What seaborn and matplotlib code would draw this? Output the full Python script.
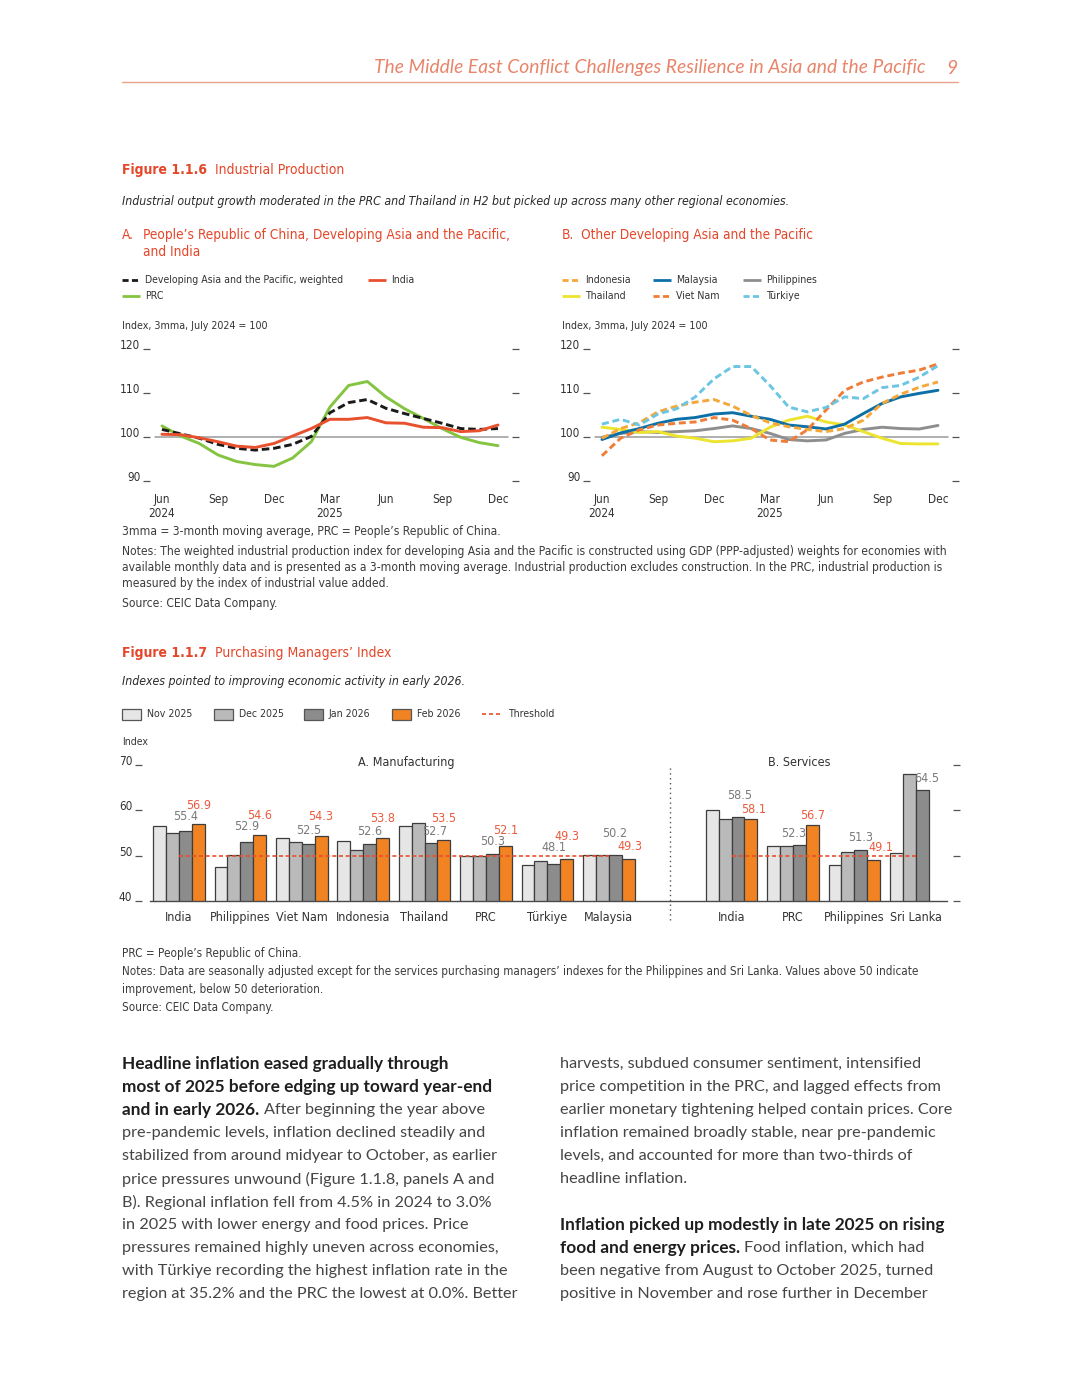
import numpy as np
import pandas as pd
import seaborn as sns
import matplotlib
matplotlib.use("Agg")
import matplotlib.pyplot as plt
from matplotlib.patches import Rectangle

# ----------------------------- data -----------------------------
# Figure 1.1.6: index, 3mma, July 2024 = 100; months Jun 2024 .. Dec 2025
month_index = list(range(19))
month_tick_pos = [0, 3, 6, 9, 12, 15, 18]
month_tick_labels = ["Jun\n2024", "Sep", "Dec", "Mar\n2025", "Jun", "Sep", "Dec"]
ip_yticks = [90, 100, 110, 120]

ip_dev_asia = [101.8, 100.8, 99.8, 98.4, 97.5, 97.1, 97.5, 98.4, 100.2, 105.6,
               107.9, 108.6, 106.6, 105.4, 104.3, 103.2, 102.0, 101.8, 102.0]
ip_india = [100.7, 100.6, 99.9, 99.0, 98.0, 97.7, 98.6, 100.3, 102.0, 104.1,
            104.1, 104.5, 103.3, 103.2, 102.3, 102.2, 101.3, 101.5, 102.8]
ip_prc = [102.6, 100.3, 98.6, 96.0, 94.5, 93.8, 93.4, 95.3, 99.0, 106.9,
          111.8, 112.7, 109.2, 106.5, 104.3, 102.0, 100.0, 98.8, 98.1]

ip_indonesia = [99.8, 102.0, 103.3, 105.8, 107.1, 108.0, 108.6, 107.1, 105.0, 103.3,
                102.4, 101.8, 101.3, 102.0, 103.9, 107.7, 109.8, 111.4, 112.6]
ip_malaysia = [99.5, 101.0, 102.0, 103.2, 104.1, 104.5, 105.3, 105.6, 104.8, 104.1,
               102.8, 102.4, 101.9, 103.0, 105.4, 107.7, 109.2, 110.0, 110.7]
ip_philippines = [100.0, 100.9, 101.3, 101.1, 101.3, 101.5, 102.0, 102.6, 102.0, 100.9,
                  99.5, 99.2, 99.4, 100.9, 101.8, 102.3, 102.0, 101.9, 102.7]
ip_thailand = [102.3, 101.8, 101.1, 101.3, 100.3, 99.8, 99.0, 99.2, 99.8, 102.3,
               103.9, 104.8, 103.5, 102.8, 101.3, 99.8, 98.6, 98.5, 98.5]
ip_vietnam = [95.8, 99.8, 101.7, 102.8, 103.2, 103.5, 104.5, 103.9, 102.0, 99.4,
              99.0, 101.7, 106.2, 110.7, 112.6, 113.7, 114.6, 115.3, 116.7]
ip_turkiye = [103.0, 104.1, 102.8, 105.3, 106.5, 109.2, 113.3, 116.1, 116.1, 111.8,
              106.9, 105.8, 106.8, 109.2, 108.8, 111.3, 111.8, 113.7, 116.3]

# Figure 1.1.7: PMI
pmi_months = ["Nov 2025", "Dec 2025", "Jan 2026", "Feb 2026"]
manuf_countries = ["India", "Philippines", "Viet Nam", "Indonesia", "Thailand", "PRC", "Türkiye", "Malaysia"]
manuf_nov = [56.5, 47.5, 53.8, 53.3, 56.5, 49.9, 48.0, 50.1]
manuf_dec = [55.0, 50.2, 52.9, 51.2, 57.1, 50.0, 48.9, 50.1]
manuf_jan = [55.4, 52.9, 52.5, 52.6, 52.7, 50.3, 48.1, 50.2]
manuf_feb = [56.9, 54.6, 54.3, 53.8, 53.5, 52.1, 49.3, 49.3]
serv_countries = ["India", "PRC", "Philippines", "Sri Lanka"]
serv_nov = [59.9, 52.2, 48.0, 50.5]
serv_dec = [58.0, 52.0, 50.8, 68.0]
serv_jan = [58.5, 52.3, 51.3, 64.5]
serv_feb = [58.1, 56.7, 49.1, np.nan]
pmi_threshold = 50
pmi_yticks = [40, 50, 60, 70]

# label placement in pixels (layout only): rise above bar top, horizontal nudge
jan_gap_m = [11, 12, 10, 9, 8, 9, 13, 17.5]
feb_gap_m = [15, 15.5, 16, 16, 17.5, 12, 18.5, 8.5]
jan_gap_s = [18, 8, 8.5, 7.5]
feb_gap_s = [5.5, 6, 8.5, 0]
jan_dx_m = [0, 0, 0, 0, 3.5, 0, 0, 0]
feb_dx_m = [0, 0, 0, 0, 0, 0, 0, 2]
jan_dx_s = [1.5, -6, 0, 5]
feb_dx_s = [2.5, 0, 7, 0]

# ----------------------------- setup -----------------------------
sns.set_theme(style="white")
BODY = ["Lato", "Open Sans", "DejaVu Sans"]
plt.rcParams["font.family"] = ["Liberation Sans", "DejaVu Sans"]

W, H = 1080, 1398
fig = plt.figure(figsize=(W / 100, H / 100), dpi=100)
fig.patch.set_facecolor("white")
page = fig.add_axes([0, 0, 1, 1], zorder=0)
page.set_xlim(0, W)
page.set_ylim(H, 0)
page.axis("off")
R = fig.canvas.get_renderer()

RED = "#e4472a"
TXT = "#333333"


def raw_width(s, size, family, stretch="normal", **kw):
    t = page.text(0, 0, s, fontsize=size, family=family, fontstretch=stretch, **kw)
    w = t.get_window_extent(R).width
    t.remove()
    return w


# pick a condensed face for chart text if one is installed
CH, CH_STRETCH = ["Liberation Sans", "DejaVu Sans"], "normal"
for fam in ["Noto Sans", "DejaVu Sans", "Open Sans", "Roboto"]:
    wn = raw_width("Industrial output growth moderated", 10, [fam], "normal")
    wc = raw_width("Industrial output growth moderated", 10, [fam], "condensed")
    if wc < 0.92 * wn:
        CH, CH_STRETCH = [fam, "DejaVu Sans"], "condensed"
        break
plt.rcParams["font.family"] = CH
plt.rcParams["font.stretch"] = CH_STRETCH
TICK = 8.5 if CH_STRETCH == "condensed" else 8


def add_ax(l, t, r, b):
    ax = fig.add_axes([l / W, 1 - b / H, (r - l) / W, (b - t) / H], zorder=2)
    ax.patch.set_alpha(0)
    return ax


def T(x, y, s, size, family=None, color=TXT, weight="normal", style="normal", ha="left", va="center"):
    fam = CH if family is None else family
    st = CH_STRETCH if family is None else "normal"
    return page.text(x, y, s, fontsize=size, family=fam, fontstretch=st, color=color,
                     fontweight=weight, fontstyle=style, ha=ha, va=va)


def width_of(s, size, **kw):
    t = T(0, 0, s, size, **kw)
    w = t.get_window_extent(R).width
    t.remove()
    return w


def fit(s, target, **kw):
    return 10 * target / width_of(s, 10, **kw)


def runs(x, y, parts, size_b, size_r, family, colors=("#454545", "#1e1e1e")):
    for s, bold in parts:
        sz = size_b if bold else size_r
        t = T(x, y, s, sz, family=family, color=colors[1] if bold else colors[0],
              weight="bold" if bold else "normal")
        sp = width_of("a a", sz, family=family) - width_of("aa", sz, family=family)
        x += t.get_window_extent(R).width + sp


# ----------------------------- header -----------------------------
hdr = "The Middle East Conflict Challenges Resilience in Asia and the Pacific"
hs = fit(hdr, 551, family=BODY, style="italic")
T(926, 68, hdr, hs, family=BODY, color="#e8856a", style="italic", ha="right")
T(952, 68, "9", hs, family=BODY, color="#e8856a", style="italic", ha="center")
page.plot([122, 958], [82, 82], color="#e9a48f", lw=1)

# ----------------------------- Figure 1.1.6 -----------------------------
fs = fit("Figure 1.1.6", 85, weight="bold")
T(122, 170, "Figure 1.1.6", fs, color=RED, weight="bold")
T(215, 170, "Industrial Production", fs, color=RED)
sub1 = "Industrial output growth moderated in the PRC and Thailand in H2 but picked up across many other regional economies."
ss = fit(sub1, 668, style="italic")
T(122, 201, sub1, ss, color="#2a2a2a", style="italic")

pt = "People’s Republic of China, Developing Asia and the Pacific,"
ps = fit(pt, 367)
T(122, 235, "A.", ps, color=RED)
T(143, 235, pt, ps, color=RED)
T(143, 252, "and India", ps, color=RED)
T(562, 235, "B.", ps, color=RED)
T(581, 235, "Other Developing Asia and the Pacific", ps, color=RED)

ls = fit("Developing Asia and the Pacific, weighted", 199)
legA = [(122, 280, "Developing Asia and the Pacific, weighted", "#1a1a1a", (0, (2.2, 1.2))),
        (368, 280, "India", "#e8502e", "-"),
        (122, 296, "PRC", "#84c441", "-")]
legB = [(562, 280, "Indonesia", "#f5a83a", (0, (2.2, 1.2))),
        (653, 280, "Malaysia", "#0c70a6", "-"),
        (743, 280, "Philippines", "#8e8e8e", "-"),
        (562, 296, "Thailand", "#ece42f", "-"),
        (653, 296, "Viet Nam", "#ef7d37", (0, (2.2, 1.2))),
        (743, 296, "Türkiye", "#6cc5e3", (0, (2.2, 1.2)))]
for x, y, lab, c, st in legA + legB:
    page.plot([x, x + 18], [y, y], color=c, lw=2, ls=st, solid_capstyle="butt", dash_capstyle="butt")
    T(x + 23, y, lab, ls)

isz = fit("Index, 3mma, July 2024 = 100", 146)
T(122, 326, "Index, 3mma, July 2024 = 100", isz)
T(562, 326, "Index, 3mma, July 2024 = 100", isz)

dfA = pd.DataFrame({
    "month": month_index * 3,
    "value": ip_prc + ip_dev_asia + ip_india,
    "series": ["PRC"] * 19 + ["Developing Asia and the Pacific, weighted"] * 19 + ["India"] * 19,
})
palA = {"PRC": "#84c441", "Developing Asia and the Pacific, weighted": "#1a1a1a", "India": "#e8502e"}
dashA = {"PRC": "", "Developing Asia and the Pacific, weighted": (2.6, 1.3), "India": ""}

seriesB = {"Philippines": ip_philippines, "Thailand": ip_thailand, "Malaysia": ip_malaysia,
           "Indonesia": ip_indonesia, "Viet Nam": ip_vietnam, "Türkiye": ip_turkiye}
dfB = pd.DataFrame({
    "month": month_index * len(seriesB),
    "value": sum(seriesB.values(), []),
    "series": sum([[k] * 19 for k in seriesB], []),
})
palB = {"Indonesia": "#f5a83a", "Malaysia": "#0c70a6", "Philippines": "#8e8e8e",
        "Thailand": "#ece42f", "Viet Nam": "#ef7d37", "Türkiye": "#6cc5e3"}
dashB = {"Indonesia": (2.4, 1.3), "Malaysia": "", "Philippines": "", "Thailand": "",
         "Viet Nam": (2.4, 1.3), "Türkiye": (2.4, 1.3)}


def style_line_axes(ax):
    ax.set_xlim(-0.64, 18.75)
    ax.set_ylim(88, 121)
    for s in ax.spines.values():
        s.set_visible(False)
    ax.tick_params(axis="y", left=True, right=True, direction="out", length=5, width=0.9,
                   color="#555555", labelsize=TICK, labelcolor=TXT, pad=2)
    ax.set_yticks(ip_yticks)
    ax.set_yticklabels([str(v) for v in ip_yticks], va="baseline")
    ax.tick_params(axis="x", length=0, pad=2, labelsize=TICK, labelcolor=TXT)
    ax.set_xticks(month_tick_pos)
    ax.set_xticklabels(month_tick_labels, linespacing=1.15)
    ax.axhline(100, xmin=0.014, xmax=0.989, color="#9a9a9a", lw=1.1, zorder=1)
    ax.set_xlabel("")
    ax.set_ylabel("")
    ax.grid(False)


axA = add_ax(150, 345, 512, 490.1)
sns.lineplot(data=dfA, x="month", y="value", hue="series", style="series", palette=palA,
             dashes=dashA, linewidth=2.1, legend=False, errorbar=None, ax=axA)
style_line_axes(axA)

axB = add_ax(590, 345, 952, 490.1)
sns.lineplot(data=dfB, x="month", y="value", hue="series", style="series", palette=palB,
             dashes=dashB, linewidth=2.1, legend=False, errorbar=None, ax=axB)
style_line_axes(axB)

notes1 = [
    (531, "3mma = 3-month moving average, PRC = People’s Republic of China."),
    (551, "Notes: The weighted industrial production index for developing Asia and the Pacific is constructed using GDP (PPP-adjusted) weights for economies with"),
    (567, "available monthly data and is presented as a 3-month moving average. Industrial production excludes construction. In the PRC, industrial production is"),
    (584, "measured by the index of industrial value added."),
    (604, "Source: CEIC Data Company."),
]
ns = fit(notes1[1][1], 822)
for y, s in notes1:
    T(122, y, s, ns, color="#3c3c3c")

# ----------------------------- Figure 1.1.7 -----------------------------
T(122, 653, "Figure 1.1.7", fs, color=RED, weight="bold")
T(215, 653, "Purchasing Managers’ Index", fs, color=RED)
T(122, 681, "Indexes pointed to improving economic activity in early 2026.", ss, color="#2a2a2a", style="italic")

pmi_colors = {"Nov 2025": "#e6e6e6", "Dec 2025": "#bababa", "Jan 2026": "#8c8c8c", "Feb 2026": "#f28322"}
leg_x = [122, 214, 304, 392]
for x, m in zip(leg_x, pmi_months):
    page.add_patch(Rectangle((x, 709), 19, 10.5, facecolor=pmi_colors[m], edgecolor="#555555", lw=0.9))
    T(x + 25, 714, m, ls)
page.plot([482, 501], [714, 714], color="#e8502a", lw=1.2, ls=(0, (2.4, 1.8)))
T(508, 714, "Threshold", ls)
T(122, 742, "Index", ls)

gap_key = " "
order = [f"M:{c}" for c in manuf_countries] + [gap_key] + [f"S:{c}" for c in serv_countries]
rows = []
for m, mv, sv in zip(pmi_months, [manuf_nov, manuf_dec, manuf_jan, manuf_feb],
                     [serv_nov, serv_dec, serv_jan, serv_feb]):
    for c, v in zip(manuf_countries, mv):
        rows.append((f"M:{c}", m, v))
    for c, v in zip(serv_countries, sv):
        rows.append((f"S:{c}", m, v))
dfP = pd.DataFrame(rows, columns=["key", "month", "value"]).dropna()

axP = add_ax(150, 760, 947, 901)
sns.barplot(data=dfP, x="key", y="value", hue="month", order=order, hue_order=pmi_months,
            palette=pmi_colors, width=0.84, edgecolor="#3d3d3d", linewidth=0.9, saturation=1,
            errorbar=None, legend=False, ax=axP)
axP.set_xlim(-0.472, 12.51)
axP.set_ylim(40, 71)
for k, s in axP.spines.items():
    s.set_visible(k == "bottom")
axP.spines["bottom"].set_color("#4a4a4a")
axP.spines["bottom"].set_linewidth(1)
axP.spines["left"].set_position(("outward", 5.8))
axP.spines["right"].set_position(("outward", 4.3))
axP.tick_params(axis="y", left=True, right=True, direction="out", length=5, width=0.9,
                color="#555555", labelsize=TICK, labelcolor=TXT, pad=2)
axP.set_yticks(pmi_yticks)
axP.set_yticklabels([str(v) for v in pmi_yticks], va="baseline")
axP.set_xticks(range(len(order)))
axP.set_xticklabels(manuf_countries + [""] + serv_countries)
axP.tick_params(axis="x", length=0, pad=7, labelsize=TICK + 0.5, labelcolor=TXT)
axP.set_xlabel("")
axP.set_ylabel("")
axP.grid(False)

thr_kw = dict(color="#e8502a", lw=1.2, ls=(0, (2.4, 1.6)), zorder=5)
axP.plot([0, len(manuf_countries) - 1], [pmi_threshold] * 2, **thr_kw)
s0 = len(manuf_countries) + 1
axP.plot([s0, s0 + len(serv_countries) - 1], [pmi_threshold] * 2, **thr_kw)
axP.axvline(len(manuf_countries), ymin=-0.135, ymax=0.95, color="#555555", lw=1,
            ls=(0, (1, 2.5)), clip_on=False)

axP.text(3.7, 70.5, "A. Manufacturing", fontsize=TICK + 0.5, color=TXT, ha="center", va="center")
axP.text(s0 + 1.1, 70.5, "B. Services", fontsize=TICK + 0.5, color=TXT, ha="center", va="center")

keys = [f"M:{c}" for c in manuf_countries] + [f"S:{c}" for c in serv_countries]
jan_vals = dict(zip(keys, manuf_jan + serv_jan))
feb_vals = dict(zip(keys, manuf_feb + serv_feb))
jan_gap = dict(zip(keys, jan_gap_m + jan_gap_s))
feb_gap = dict(zip(keys, feb_gap_m + feb_gap_s))
jan_dx = dict(zip(keys, jan_dx_m + jan_dx_s))
feb_dx = dict(zip(keys, feb_dx_m + feb_dx_s))
for cont, m in zip(axP.containers, pmi_months):
    if m not in ("Jan 2026", "Feb 2026"):
        continue
    for bar in cont:
        h = bar.get_height()
        if not np.isfinite(h):
            continue
        xc = bar.get_x() + bar.get_width() / 2
        key = order[int(round(xc))]
        if m == "Jan 2026":
            axP.annotate(f"{jan_vals[key]:.1f}", (xc, h), xytext=(jan_dx[key], jan_gap[key]),
                         textcoords="offset pixels", ha="center", va="baseline",
                         fontsize=TICK + 0.5, color="#7a7a7a", zorder=10)
        else:
            axP.annotate(f"{feb_vals[key]:.1f}", (xc, h), xytext=(feb_dx[key], feb_gap[key]),
                         textcoords="offset pixels", ha="center", va="baseline",
                         fontsize=TICK + 0.5, color="#ea5a3c", zorder=10)

notes2 = [
    (953, "PRC = People’s Republic of China."),
    (972, "Notes: Data are seasonally adjusted except for the services purchasing managers’ indexes for the Philippines and Sri Lanka. Values above 50 indicate"),
    (989, "improvement, below 50 deterioration."),
    (1008, "Source: CEIC Data Company."),
]
ns2 = fit(notes2[1][1], 793)
for y, s in notes2:
    T(122, y, s, ns2, color="#3c3c3c")

# ----------------------------- body text -----------------------------
left_col = [
    [("Headline inflation eased gradually through", True)],
    [("most of 2025 before edging up toward year-end", True)],
    [("and in early 2026.", True), ("After beginning the year above", False)],
    [("pre-pandemic levels, inflation declined steadily and", False)],
    [("stabilized from around midyear to October, as earlier", False)],
    [("price pressures unwound (Figure 1.1.8, panels A and", False)],
    [("B). Regional inflation fell from 4.5% in 2024 to 3.0%", False)],
    [("in 2025 with lower energy and food prices. Price", False)],
    [("pressures remained highly uneven across economies,", False)],
    [("with Türkiye recording the highest inflation rate in the", False)],
    [("region at 35.2% and the PRC the lowest at 0.0%. Better", False)],
]
right_col = [
    [("harvests, subdued consumer sentiment, intensified", False)],
    [("price competition in the PRC, and lagged effects from", False)],
    [("earlier monetary tightening helped contain prices. Core", False)],
    [("inflation remained broadly stable, near pre-pandemic", False)],
    [("levels, and accounted for more than two-thirds of", False)],
    [("headline inflation.", False)],
    [],
    [("Inflation picked up modestly in late 2025 on rising", True)],
    [("food and energy prices.", True), ("Food inflation, which had", False)],
    [("been negative from August to October 2025, turned", False)],
    [("positive in November and rose further in December", False)],
]
bs = fit("Headline inflation eased gradually through", 326, family=BODY, weight="bold")
rs = fit("earlier monetary tightening helped contain prices. Core", 394, family=BODY)
for i, parts in enumerate(left_col):
    if parts:
        runs(122, 1064 + 23 * i, parts, bs, rs, BODY)
for i, parts in enumerate(right_col):
    if parts:
        runs(560, 1064 + 23 * i, parts, bs, rs, BODY)

fig.savefig("out.png", dpi=100, facecolor="white")
